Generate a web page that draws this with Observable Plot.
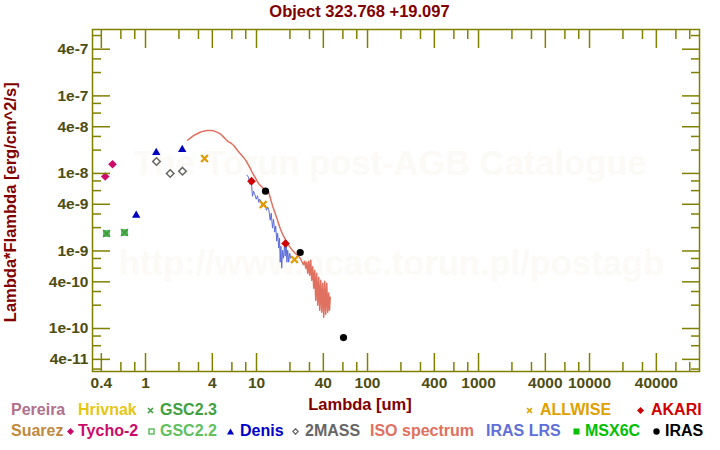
<!DOCTYPE html>
<html><head><meta charset="utf-8">
<script src="https://cdn.jsdelivr.net/npm/d3@7"></script>
<script src="https://cdn.jsdelivr.net/npm/@observablehq/plot@0.6"></script>
<style>
html,body{margin:0;padding:0;background:#fff;}
#wrap{position:relative;width:720px;height:450px;overflow:hidden;font-family:"Liberation Sans",Arial,sans-serif;font-weight:bold;}
.abs{position:absolute;white-space:nowrap;}
</style></head><body><div id="wrap"></div>
<script>
// ---------- data ----------
const tychoWl = [0.4335, 0.5044];
const tychoF  = [9.13e-9, 1.315e-8];
const gscWl = [0.4453, 0.6468];
const gscF  = [1.68e-9, 1.73e-9];
const denisWl = [0.8245, 1.249, 2.141];
const denisF  = [2.89e-9, 1.862e-8, 2.035e-8];
const tmassWl = [1.256, 1.669, 2.154];
const tmassF  = [1.425e-8, 9.98e-9, 1.069e-8];
const allwiseWl = [3.401, 11.49, 21.99];
const allwiseF  = [1.558e-8, 3.97e-9, 7.76e-10];
const akariWl = [9.016, 18.25];
const akariF  = [7.94e-9, 1.248e-9];
const irasWl = [12.05, 24.76, 60.78];
const irasF  = [5.90e-9, 9.55e-10, 7.65e-11];

const isoWl = [2.39,2.53,2.71,2.92,3.11,3.33,3.57,3.83,4.10,4.34,
  4.55,4.81,5.04,5.33,5.59,5.80,6.21,6.56,6.89,7.28,
  7.64,8.08,8.47,8.78,9.09,9.40,9.73,10.08,10.42,11.02,
  11.56,12.23,12.83,13.15,13.48,14.05,14.74,15.46,16.35,17.15,
  18.14,19.43,20.84,22.32,23.90,24.76,25.80,26.51,27.18,
  27.75,28.34,28.93,29.54,30.16,30.79,31.43,32.09,32.76,33.45,
  34.15,34.86,35.60,36.34,37.10,37.88,38.67,39.48,40.31,41.16,
  42.02,42.90,43.80,44.72,45.47,46.13];
const isoF = [2.68e-8,2.85e-8,3.07e-8,3.25e-8,3.40e-8,3.51e-8,3.58e-8,3.59e-8,3.54e-8,3.43e-8,
  3.33e-8,3.16e-8,2.96e-8,2.72e-8,2.55e-8,2.49e-8,2.31e-8,2.08e-8,1.90e-8,1.74e-8,
  1.61e-8,1.44e-8,1.28e-8,1.17e-8,1.05e-8,9.63e-9,8.86e-9,8.06e-9,7.42e-9,6.84e-9,
  6.39e-9,6.08e-9,5.78e-9,5.16e-9,4.52e-9,3.70e-9,3.04e-9,2.49e-9,1.95e-9,1.65e-9,
  1.42e-9,1.19e-9,1.04e-9,9.36e-10,8.56e-10,8.06e-10,7.16e-10,6.65e-10,7.38e-10,
  5.99e-10,7.16e-10,5.16e-10,7.38e-10,4.87e-10,7.60e-10,4.19e-10,6.26e-10,3.31e-10,5.64e-10,
  2.32e-10,5.16e-10,2.00e-10,4.59e-10,1.72e-10,4.19e-10,1.62e-10,3.84e-10,1.40e-10,4.07e-10,
  1.53e-10,3.84e-10,1.62e-10,2.87e-10,1.72e-10,2.53e-10];

const lrsWl = [8.20,8.47,8.69,8.87,9.05,9.20,9.40,9.63,9.94,10.21,
  10.47,10.69,10.96,11.26,11.56,11.98,12.31,12.62,12.88,13.29,
  13.57,13.94,14.23,14.59,14.89,15.21,15.52,15.85,16.12,16.35,
  16.59,16.87,17.15,17.51,17.88,18.14,18.52,18.79,19.10,19.50,
  19.91,20.33];
const lrsF = [9.49e-9,8.94e-9,7.26e-9,7.71e-9,6.84e-9,5.08e-9,5.90e-9,5.40e-9,4.65e-9,5.16e-9,
  4.25e-9,4.65e-9,4.38e-9,3.72e-9,4.07e-9,3.89e-9,3.35e-9,3.67e-9,3.46e-9,2.49e-9,
  3.07e-9,1.97e-9,2.57e-9,1.75e-9,2.09e-9,1.34e-9,1.69e-9,1.09e-9,1.46e-9,7.16e-10,
  1.15e-9,5.99e-10,1.02e-9,8.06e-10,1.22e-9,8.56e-10,1.38e-9,7.16e-10,1.02e-9,7.16e-10,
  9.36e-10,8.06e-10];

const xLabelTicks = [0.4,1,4,10,40,100,400,1000,4000,10000,40000];
const xMinorTicks = [0.6,0.8,2,3,6,8,20,30,60,80,200,300,600,800,2000,3000,6000,8000,20000,30000,60000,80000];
const yLabelTicks = [4e-7,1e-7,4e-8,1e-8,4e-9,1e-9,4e-10,1e-10,4e-11];
const yMinorTicks = [6e-7,3e-7,2e-7,8e-8,6e-8,3e-8,2e-8,8e-9,6e-9,3e-9,2e-9,8e-10,6e-10,3e-10,2e-10,8e-11,6e-11,3e-11];

const legendNames  = ["Pereira","Hrivnak","GSC2.3","ALLWISE","AKARI","Suarez","Tycho-2","GSC2.2","Denis","2MASS","ISO spectrum","IRAS LRS","MSX6C","IRAS"];
const legendColors = ["#b0708c","#e6c614","#40a040","#e0a000","#d00000","#c08a40","#cc0a6a","#60c060","#0000c8","#666666","#e07060","#6070d8","#00c000","#000000"];
const legendSymbols = [null,null,"times","times","diamond",null,"diamond","squareOpen","triangle","diamondOpen",null,null,"square","circle"];

// ---------- layout (pixels) ----------
const legendLayout = [ // [row, symbolLeft, textLeft]
  [0,null,11],[0,null,78],[0,146.5,160],[0,526,540],[0,637,651],
  [1,null,11],[1,66.5,78],[1,148,160],[1,227,240],[1,292,305],[1,null,370],[1,null,486],[1,573,585],[1,653,665]
];
const rowBaseline = [416, 437];

const rows = (w, f) => w.map((v, i) => ({w: v, f: f[i]}));
const olive = "#808000", tickText = "#4d4d12";
const wrap = document.getElementById("wrap");

function addText(txt, x, baseline, size, color, center) {
  const d = document.createElement("div");
  d.className = "abs";
  d.textContent = txt;
  d.style.fontSize = size + "px";
  d.style.lineHeight = size + "px";
  d.style.color = color;
  const off = size * (1 - 1.117) / 2 + size * 0.905;
  d.style.top = (baseline - off) + "px";
  if (center) { d.style.left = (x - 400) + "px"; d.style.width = "800px"; d.style.textAlign = "center"; }
  else d.style.left = x + "px";
  wrap.appendChild(d);
  return d;
}

// watermark (behind the chart)
addText("The Torun post-AGB Catalogue", 390, 175, 34.5, "#fcfaf6", true);
addText("http://www.ncac.torun.pl/postagb", 391.5, 275, 34.5, "#fcfaf6", true);

const tickAxis = (fn, anchor, ticks, size) =>
  fn(ticks, {anchor, tickSize: size, tickFormat: () => "", color: olive, strokeWidth: 1.5, label: null});

const chart = Plot.plot({
  width: 720, height: 450,
  marginLeft: 92, marginRight: 21, marginTop: 29, marginBottom: 79,
  style: "position:absolute;left:0;top:0;background:transparent;font-family:'Liberation Sans',Arial,sans-serif;font-weight:bold;font-size:15.5px;overflow:visible;",
  x: {type: "log", domain: [0.333, 97900], label: null},
  y: {type: "log", domain: [2.79e-11, 7.18e-7], label: null},
  marks: [
    Plot.line(rows(isoWl, isoF), {x: "w", y: "f", stroke: "#e07060", strokeWidth: 1.5}),
    Plot.line(rows(lrsWl, lrsF), {x: "w", y: "f", stroke: "#5a6ad8", strokeWidth: 1}),
    Plot.dot(rows(gscWl, gscF), {x: "w", y: "f", symbol: "square", r: 3.9, fill: "#5cbc5c"}),
    Plot.dot(rows(gscWl, gscF), {x: "w", y: "f", symbol: "times", r: 3.2, stroke: "#3e9e3e", strokeWidth: 1.6}),
    Plot.dot(rows(tychoWl, tychoF), {x: "w", y: "f", symbol: "diamond2", r: 3.9, fill: "#cc0a6a"}),
    Plot.dot(rows(denisWl, denisF), {x: "w", y: "f", symbol: "triangle", r: 3.1, fill: "#0000c0"}),
    Plot.dot(rows(tmassWl, tmassF), {x: "w", y: "f", symbol: "diamond2", r: 3.4, fill: "none", stroke: "#666666", strokeWidth: 1.5}),
    Plot.dot(rows(allwiseWl, allwiseF), {x: "w", y: "f", symbol: "times", r: 3.2, stroke: "#e09a00", strokeWidth: 2.2}),
    Plot.dot(rows(akariWl, akariF), {x: "w", y: "f", symbol: "diamond2", r: 3.9, fill: "#d00000"}),
    Plot.dot(rows(irasWl, irasF), {x: "w", y: "f", symbol: "circle", r: 3.6, fill: "#000000"}),
    Plot.frame({stroke: olive, strokeWidth: 1.5}),
    tickAxis(Plot.axisX, "bottom", xLabelTicks, -18),
    tickAxis(Plot.axisX, "bottom", xMinorTicks, -9),
    tickAxis(Plot.axisX, "top", xLabelTicks, -18),
    tickAxis(Plot.axisX, "top", xMinorTicks, -9),
    tickAxis(Plot.axisY, "left", yLabelTicks, -18),
    tickAxis(Plot.axisY, "left", yMinorTicks, -9),
    tickAxis(Plot.axisY, "right", yLabelTicks, -18),
    tickAxis(Plot.axisY, "right", yMinorTicks, -9),
    Plot.text(xLabelTicks, {x: d => d, text: d => String(d), frameAnchor: "bottom", lineAnchor: "top", dy: 5,
      fill: tickText, fontSize: 15.5, fontWeight: "bold"}),
    Plot.text(yLabelTicks, {y: d => d, text: d => d.toExponential(0), frameAnchor: "left", textAnchor: "end", dx: -4,
      fill: tickText, fontSize: 15.5, fontWeight: "bold"})
  ]
});
wrap.appendChild(chart);

// titles
addText("Object 323.768 +19.097", 359.5, 17, 16.5, "#800000", true);
addText("Lambda [um]", 360, 410, 16.5, "#800000", true);
{
  const size = 16.5, d = document.createElement("div");
  d.className = "abs";
  d.textContent = "Lambda*Flambda [erg/cm^2/s]";
  d.style.fontSize = size + "px"; d.style.lineHeight = size + "px"; d.style.color = "#800000";
  d.style.width = "400px"; d.style.textAlign = "center";
  const cx = 10.3, cy = 202;
  d.style.left = (cx - 200) + "px"; d.style.top = (cy - size / 2) + "px";
  d.style.transform = "rotate(-90deg)";
  wrap.appendChild(d);
}

// legend
function symbolSvg(kind, color) {
  const s = 7;
  let inner = "";
  if (kind === "times") inner = `<path d="M1,1L6,6M6,1L1,6" stroke="${color}" stroke-width="1.6" fill="none"/>`;
  if (kind === "diamond") inner = `<path d="M3.5,0L7,3.5L3.5,7L0,3.5Z" fill="${color}"/>`;
  if (kind === "diamondOpen") inner = `<path d="M3.5,0.8L6.2,3.5L3.5,6.2L0.8,3.5Z" fill="none" stroke="${color}" stroke-width="1.3"/>`;
  if (kind === "squareOpen") inner = `<rect x="1" y="1" width="5" height="5" fill="none" stroke="${color}" stroke-width="1.5"/>`;
  if (kind === "square") inner = `<rect x="0.5" y="0.5" width="6" height="6" fill="${color}"/>`;
  if (kind === "triangle") inner = `<path d="M3.5,0.5L7,6.5L0,6.5Z" fill="${color}"/>`;
  if (kind === "circle") inner = `<circle cx="3.5" cy="3.5" r="3.2" fill="${color}"/>`;
  return `<svg width="${s}" height="${s}" viewBox="0 0 ${s} ${s}">${inner}</svg>`;
}
legendNames.forEach((name, i) => {
  const [row, symX, textX] = legendLayout[i];
  const base = rowBaseline[row];
  addText(name, textX, base, 16, legendColors[i], false);
  if (legendSymbols[i]) {
    const d = document.createElement("div");
    d.className = "abs";
    d.style.left = symX + "px";
    d.style.top = (base - 5.7 - 3.5) + "px";
    d.style.lineHeight = "0";
    d.innerHTML = symbolSvg(legendSymbols[i], legendColors[i]);
    wrap.appendChild(d);
  }
});
</script></body></html>
